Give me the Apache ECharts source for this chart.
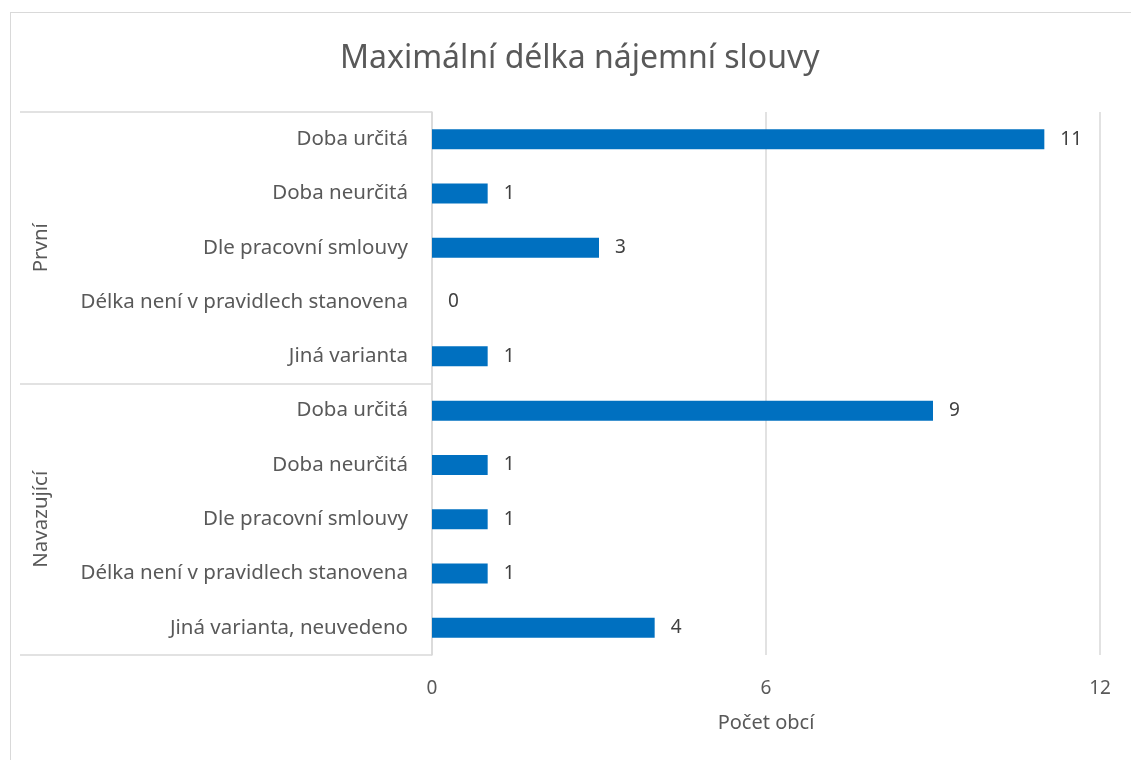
<!DOCTYPE html>
<html>
<head>
<meta charset="utf-8">
<script src="https://cdn.jsdelivr.net/npm/echarts@6/dist/echarts.min.js"></script>
<style>
  html, body { margin: 0; padding: 0; background: #fff; }
  #frame { position: absolute; left: 10px; top: 12px; width: 1140px; height: 760px; border: 1px solid #d9d9d9; }
  #chart { position: absolute; left: 0; top: 0; width: 1131px; height: 760px; }
</style>
</head>
<body>
<div id="frame"></div>
<div id="chart"></div>
<script>
// data
const groups = ['První', 'Navazující']
const categories = [
  'Doba určitá', 'Doba neurčitá', 'Dle pracovní smlouvy', 'Délka není v pravidlech stanovena', 'Jiná varianta',
  'Doba určitá', 'Doba neurčitá', 'Dle pracovní smlouvy', 'Délka není v pravidlech stanovena', 'Jiná varianta, neuvedeno'
]
const counts = [11, 1, 3, 0, 1, 9, 1, 1, 1, 4]
const xTicks = [0, 6, 12]

const font = 'Noto Sans'
const chart = echarts.init(document.getElementById('chart'))
chart.setOption({
  textStyle: { fontFamily: font },
  title: {
    text: 'Maximální délka nájemní slouvy',
    left: 335,
    top: 38,
    textStyle: { fontFamily: font, fontSize: 32, fontWeight: 'normal', color: '#595959' }
  },
  grid: { left: 432, right: 31, top: 112, bottom: 105 },
  xAxis: {
    type: 'value',
    min: xTicks[0],
    max: xTicks[xTicks.length - 1],
    interval: xTicks[1] - xTicks[0],
    axisLine: { show: false },
    axisTick: { show: false },
    axisLabel: { color: '#595959', fontSize: 19, margin: 24 },
    splitLine: { lineStyle: { color: '#d9d9d9', width: 1.5 } },
    name: 'Počet obcí',
    nameLocation: 'middle',
    nameGap: 58,
    nameTextStyle: { color: '#595959', fontSize: 20 }
  },
  yAxis: [
    {
      type: 'category',
      inverse: true,
      data: categories,
      position: 'left',
      axisLine: { show: true, lineStyle: { color: '#d9d9d9', width: 1.5 } },
      axisTick: { show: false },
      axisLabel: { color: '#595959', fontSize: 20.5, margin: 24 }
    },
    {
      type: 'category',
      inverse: true,
      data: groups,
      position: 'left',
      axisLine: { show: false },
      axisTick: { show: true, length: 412, lineStyle: { color: '#d9d9d9', width: 1.5 } },
      axisLabel: { color: '#595959', fontSize: 20.5, rotate: 90, margin: 380 }
    }
  ],
  series: [
    {
      type: 'bar',
      yAxisIndex: 0,
      data: counts,
      barWidth: 20,
      itemStyle: { color: '#0070c0' },
      label: { show: true, position: 'right', distance: 16, color: '#404040', fontSize: 19 }
    }
  ]
})
</script>
</body>
</html>
